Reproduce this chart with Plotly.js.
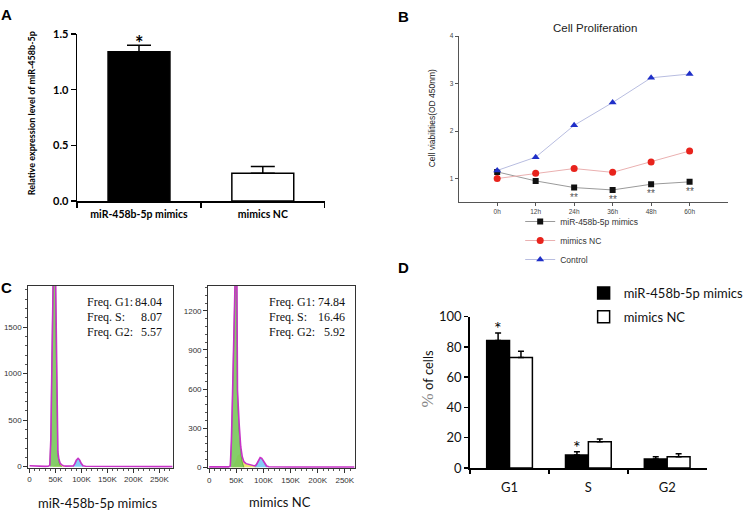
<!DOCTYPE html>
<html><head><meta charset="utf-8">
<script src="https://cdn.plot.ly/plotly-3.0.1.min.js"></script>
<style>html,body{margin:0;padding:0;background:#fff}</style>
</head><body><div id="chart" style="width:749px;height:517px"></div>
<script>
// ---------- Panel A ----------
const aCategories = ['miR-458b-5p mimics', 'mimics NC'];
const aValues = [1.34, 0.25];
const aErrors = [0.06, 0.06];
const aSig = ['*', ''];
const aYTicks = [0, 0.5, 1.0, 1.5];
const aYTickText = ['0.0', '0.5', '1.0', '1.5'];

// ---------- Panel B ----------
const bTimes = ['0h', '12h', '24h', '36h', '48h', '60h'];
const bMimics = [1.14, 0.95, 0.81, 0.76, 0.88, 0.93];
const bNC = [1.00, 1.11, 1.21, 1.13, 1.35, 1.58];
const bControl = [1.17, 1.45, 2.12, 2.60, 3.12, 3.20];
const bSig = ['', '', '**', '**', '**', '**'];
const bSeriesNames = ['miR-458b-5p mimics', 'mimics NC', 'Control'];

// ---------- Panel C (flow cytometry histograms, x in K) ----------
const cXTickVals = [0, 50, 100, 150, 200, 250];
const cXTickText = ['0', '50K', '100K', '150K', '200K', '250K'];
const cFreqLabels = ['Freq. G1:', 'Freq. S:', 'Freq. G2:'];
const cFreqMimics = ['84.04', '8.07', '5.57'];
const cFreqNC = ['74.84', '16.46', '5.92'];
const cNames = ['miR-458b-5p mimics', 'mimics NC'];

// mimics histogram outline
const hxL = [0, 10, 20, 30, 36, 39, 41, 43, 45, 47, 49, 51, 52.6, 54.5, 56.5, 59, 62, 65, 70, 75, 80, 84, 87, 90, 93.4, 96, 99, 103, 108, 120, 150, 200, 250, 275];
const hyL = [10, 6, 4, 3, 4, 15, 300, 1200, 2100, 2600, 2500, 1500, 467, 161, 80, 37, 20, 10, 6, 5, 5, 8, 30, 70, 90, 75, 40, 10, 4, 3, 2, 2, 1, 1];
const g1xL = [39, 41, 43, 45, 47, 49, 51, 52.6, 54.5, 56.5, 59, 62];
const g1yL = [15, 300, 1200, 2100, 2600, 2500, 1500, 440, 130, 50, 12, 0];
const sxL = [44, 50, 54, 58, 62, 66, 72, 80, 86, 90];
const syL = [0, 20, 40, 35, 22, 10, 6, 4, 3, 0];
const g2xL = [84, 87, 90, 93.4, 96, 99, 103];
const g2yL = [0, 28, 68, 88, 73, 38, 0];

// mimics NC histogram outline
const hxR = [0, 10, 20, 30, 36, 39, 41, 43, 45, 47, 49, 51, 52.2, 55.2, 58.2, 61, 64, 68, 72, 76, 80, 84, 87, 90, 94, 97, 100, 103, 106, 110, 120, 150, 200, 250, 268];
const hyR = [3, 2, 2, 2, 3, 10, 200, 540, 1000, 1500, 1650, 1500, 594, 337, 158, 80, 43, 28, 22, 18, 12, 10, 20, 45, 74, 68, 48, 25, 10, 4, 3, 2, 2, 2, 2];
const g1xR = [39, 41, 43, 45, 47, 49, 51, 52.2, 55.2, 58.2, 61, 64];
const g1yR = [10, 200, 540, 1000, 1500, 1650, 1500, 560, 280, 110, 40, 0];
const sxR = [42, 48, 52, 56, 60, 64, 68, 72, 76, 80, 84, 88, 92];
const syR = [0, 40, 90, 100, 80, 43, 28, 22, 18, 12, 8, 4, 0];
const g2xR = [85, 87, 90, 94, 97, 100, 103, 106];
const g2yR = [0, 18, 44, 72, 66, 46, 22, 0];

// ---------- Panel D ----------
const dPhases = ['G1', 'S', 'G2'];
const dMimics = [84.3, 8.6, 5.9];
const dMimicsErr = [5.0, 2.2, 1.6];
const dNC = [73.1, 17.4, 7.5];
const dNCErr = [4.1, 1.7, 1.9];
const dSig = ['*', '*', ''];
const dNames = ['miR-458b-5p mimics', 'mimics NC'];

// ---------- helpers ----------
const W = 749, H = 517;
const px = v => v / W;
const py = v => 1 - v / H;

const traces = [];

// Panel A bars
traces.push({
  type: 'bar', x: aCategories, y: aValues, xaxis: 'x', yaxis: 'y',
  width: 0.5, showlegend: false,
  marker: {color: ['#000000', '#ffffff'], line: {color: '#000', width: 1.5}},
  error_y: {type: 'data', symmetric: false, array: aErrors, arrayminus: aValues.map(() => 0),
            color: '#000', thickness: 1.5, width: 12}
});

// Panel B lines
const bData = [bMimics, bNC, bControl];
const bLineCol = ['#9a9a9a', '#eab0b0', '#b8bde0'];
const bMarkCol = ['#111111', '#e8231c', '#1f2fc8'];
const bSym = ['square', 'circle', 'triangle-up'];
const bSize = [6, 7, 7];
bData.forEach((d, i) => {
  traces.push({
    type: 'scatter', mode: 'lines+markers', x: bTimes, y: d, name: bSeriesNames[i],
    xaxis: 'x2', yaxis: 'y2', legend: 'legend',
    line: {color: bLineCol[i], width: 1},
    marker: {color: bMarkCol[i], symbol: bSym[i], size: bSize[i]}
  });
});

// Panel C histograms
function hist(xa, ya, hx, hy, g1x, g1y, sx, sy, g2x, g2y) {
  traces.push({type: 'scatter', mode: 'lines', x: sx, y: sy, xaxis: xa, yaxis: ya, fill: 'tozeroy',
    fillcolor: 'rgba(236,228,96,0.9)', line: {width: 0, color: 'rgba(0,0,0,0)'}, showlegend: false, hoverinfo: 'skip'});
  traces.push({type: 'scatter', mode: 'lines', x: g1x, y: g1y, xaxis: xa, yaxis: ya, fill: 'tozeroy',
    fillcolor: 'rgba(120,200,90,0.9)', line: {width: 0.6, color: '#3a8a2a'}, showlegend: false, hoverinfo: 'skip'});
  traces.push({type: 'scatter', mode: 'lines', x: g2x, y: g2y, xaxis: xa, yaxis: ya, fill: 'tozeroy',
    fillcolor: 'rgba(120,200,245,0.9)', line: {width: 0.6, color: '#3a7ab0'}, showlegend: false, hoverinfo: 'skip'});
  traces.push({type: 'scatter', mode: 'lines', x: hx, y: hy, xaxis: xa, yaxis: ya,
    line: {width: 1.6, color: '#c832c8'}, showlegend: false, hoverinfo: 'skip'});
}
hist('x3', 'y3', hxL, hyL, g1xL, g1yL, sxL, syL, g2xL, g2yL);
hist('x4', 'y4', hxR, hyR, g1xR, g1yR, sxR, syR, g2xR, g2yR);

// Panel D bars
traces.push({
  type: 'bar', x: dPhases, y: dMimics, name: dNames[0], xaxis: 'x5', yaxis: 'y5',
  legend: 'legend2', legendgroup: 'd1', width: 0.29, offset: -0.29,
  marker: {color: '#000', line: {color: '#000', width: 1.5}},
  error_y: {type: 'data', symmetric: false, array: dMimicsErr, arrayminus: dMimics.map(() => 0),
            color: '#000', thickness: 1.5, width: 3}
});
traces.push({
  type: 'bar', x: dPhases, y: dNC, name: dNames[1], xaxis: 'x5', yaxis: 'y5',
  legend: 'legend2', legendgroup: 'd2', width: 0.29, offset: 0,
  marker: {color: '#fff', line: {color: '#000', width: 1.5}},
  error_y: {type: 'data', symmetric: false, array: dNCErr, arrayminus: dNC.map(() => 0),
            color: '#000', thickness: 1.5, width: 3}
});

// ---------- annotations ----------
const ann = [];
const paperText = (text, x, y, font, extra) => ann.push(Object.assign({text: text, x: px(x), y: py(y),
  xref: 'paper', yref: 'paper', showarrow: false, xanchor: 'center', yanchor: 'middle', font: font}, extra || {}));

const letterFont = {family: 'Liberation Sans', size: 15, color: '#000'};
paperText('<b>A</b>', 7, 15, letterFont);
paperText('<b>B</b>', 413, 17, letterFont);
paperText('<b>C</b>', 7, 287, letterFont);
paperText('<b>D</b>', 413, 267, letterFont);

// A y title + asterisk
paperText('<b>Relative expression level of miR-458b-5p</b>', 32, 113, {family: 'Lato', size: 9, color: '#000'}, {textangle: -90});
aSig.forEach((s, i) => { if (s) ann.push({text: '<b>' + s + '</b>', x: aCategories[i], y: aValues[i] + aErrors[i],
  xref: 'x', yref: 'y', xanchor: 'center', yanchor: 'bottom', yshift: -12, showarrow: false,
  font: {family: 'Lato', size: 20, color: '#000'}}); });

// B title, y title, significance
paperText('Cell Proliferation', 610, 28, {family: 'Liberation Sans', size: 11.5, color: '#222'});
paperText('Cell viabilities(OD 450nm)', 443, 118, {family: 'Liberation Sans', size: 8.5, color: '#222'}, {textangle: -90});
bSig.forEach((s, i) => { if (s) ann.push({text: s, x: bTimes[i], y: bMimics[i], xref: 'x2', yref: 'y2',
  xanchor: 'center', yanchor: 'top', yshift: -2, showarrow: false,
  font: {family: 'Liberation Sans', size: 10, color: '#555'}}); });

// C frequency texts and names
const freqFont = {family: 'Liberation Serif', size: 12, color: '#111'};
const freqRows = [302, 316.7, 332];
const freq = (vals, xl, xr) => cFreqLabels.forEach((l, i) => {
  paperText(l, xl, freqRows[i], freqFont, {xanchor: 'left'});
  paperText(vals[i], xr, freqRows[i], freqFont, {xanchor: 'right'});
});
freq(cFreqMimics, 87, 168);
freq(cFreqNC, 274, 356);
paperText(cNames[0], 100, 503, {family: 'Lato', size: 13, color: '#111'});
paperText(cNames[1], 287, 502, {family: 'Lato', size: 13, color: '#111'});

// D y title + asterisks
paperText('<span style="font-family:Liberation Serif;color:#888;font-size:17px">%</span> of cells', 438, 379,
  {family: 'Lato', size: 13, color: '#111'}, {textangle: -90});
dSig.forEach((s, i) => { if (s) ann.push({text: s, x: i - 0.145, y: dMimics[i] + dMimicsErr[i], xref: 'x5', yref: 'y5',
  xanchor: 'center', yanchor: 'bottom', yshift: -8, showarrow: false,
  font: {family: 'Lato', size: 18, color: '#000'}}); });

// ---------- layout ----------
const histX = (dom, rng, anc) => ({domain: dom, range: rng, anchor: anc, tickmode: 'array', tickvals: cXTickVals, ticktext: cXTickText,
  ticks: 'outside', ticklen: 4, tickcolor: '#333', showline: true, mirror: true, linecolor: '#333', linewidth: 1,
  showgrid: false, zeroline: false, tickfont: {family: 'Liberation Sans', size: 8, color: '#333'},
  minor: {tickmode: 'linear', tick0: 0, dtick: 10, ticks: 'outside', ticklen: 2, tickcolor: '#555'}});
const histY = (dom, rng, dt, anc) => ({domain: dom, range: rng, anchor: anc, tickmode: 'linear', tick0: 0, dtick: dt,
  ticks: 'outside', ticklen: 4, tickcolor: '#333', showline: true, mirror: true, linecolor: '#333', linewidth: 1,
  showgrid: false, zeroline: false, tickfont: {family: 'Liberation Sans', size: 8, color: '#333'},
  minor: {tickmode: 'linear', tick0: 0, dtick: dt / 5, ticks: 'outside', ticklen: 2, tickcolor: '#555'}});

const layout = {
  width: W, height: H, autosize: false,
  margin: {l: 0, r: 0, t: 0, b: 0},
  paper_bgcolor: '#fff', plot_bgcolor: 'rgba(0,0,0,0)',
  barmode: 'overlay',
  showlegend: true,
  xaxis: {domain: [px(79), px(332.7)], anchor: 'y', type: 'category', range: [-0.5, 1.5], tickson: 'boundaries',
    ticks: 'outside', ticklen: 5, tickwidth: 1.5, tickcolor: '#000', showline: true, linecolor: '#000', linewidth: 1.5,
    ticklabelstandoff: 3,
    showgrid: false, zeroline: false, tickfont: {family: 'Lato', size: 10.5, color: '#000', weight: 'bold'}},
  yaxis: {domain: [py(201), py(34)], anchor: 'x', range: [0, 1.5], tickmode: 'array', tickvals: aYTicks, ticktext: aYTickText,
    ticks: 'outside', ticklen: 5, tickwidth: 1.5, tickcolor: '#000', showline: true, linecolor: '#000', linewidth: 1.5,
    showgrid: false, zeroline: false, tickfont: {family: 'Lato', size: 11, color: '#000', weight: 'bold'}},
  xaxis2: {domain: [px(470), px(746)], anchor: 'y2', type: 'category', range: [-1, 6], ticks: 'outside', ticklen: 3,
    tickcolor: '#555', showline: true, linecolor: '#555', linewidth: 1, showgrid: false, zeroline: false,
    tickfont: {family: 'Liberation Sans', size: 6.5, color: '#444'}},
  yaxis2: {domain: [py(202.3), py(36)], anchor: 'x2', range: [0.5, 4], tickmode: 'linear', tick0: 0, dtick: 1, ticks: 'outside',
    ticklen: 3, tickcolor: '#555', showline: true, linecolor: '#555', linewidth: 1, showgrid: false, zeroline: false,
    tickfont: {family: 'Liberation Sans', size: 6.5, color: '#444'}},
  xaxis3: histX([px(29), px(177.7)], [-2.4, 277], 'y3'),
  yaxis3: histY([py(467.7), py(285.7)], [-11, 1946], 500, 'x3'),
  xaxis4: histX([px(213.3), px(363.3)], [-1.8, 268], 'y4'),
  yaxis4: histY([py(468.3), py(285.7)], [-7.7, 1393], 300, 'x4'),
  xaxis5: {domain: [px(481.7), px(724)], anchor: 'y5', type: 'category', range: [-0.5, 2.5], tickson: 'boundaries',
    ticks: 'outside', ticklen: 4, tickwidth: 1.5, tickcolor: '#000', showline: true, linecolor: '#000', linewidth: 2,
    ticklabelstandoff: 6, showgrid: false, zeroline: false, tickfont: {family: 'Lato', size: 13, color: '#111'}},
  yaxis5: {domain: [py(468), py(316.7)], anchor: 'x5', range: [0, 100], tickmode: 'linear', tick0: 0, dtick: 20, ticks: 'outside',
    ticklen: 4, tickwidth: 1.5, tickcolor: '#000', showline: true, linecolor: '#000', linewidth: 2,
    showgrid: false, zeroline: false, tickfont: {family: 'Lato', size: 13, color: '#111'}},
  legend: {x: px(533), y: py(207), xanchor: 'left', yanchor: 'top', bgcolor: 'rgba(0,0,0,0)',
    font: {family: 'Liberation Sans', size: 8.5, color: '#333'}, tracegroupgap: 0},
  legend2: {x: px(598), y: py(278), xanchor: 'left', yanchor: 'top', bgcolor: 'rgba(0,0,0,0)',
    font: {family: 'Lato', size: 13, color: '#111'}, tracegroupgap: 4},
  annotations: ann
};

Plotly.newPlot('chart', traces, layout, {displayModeBar: false, staticPlot: true});
</script></body></html>
